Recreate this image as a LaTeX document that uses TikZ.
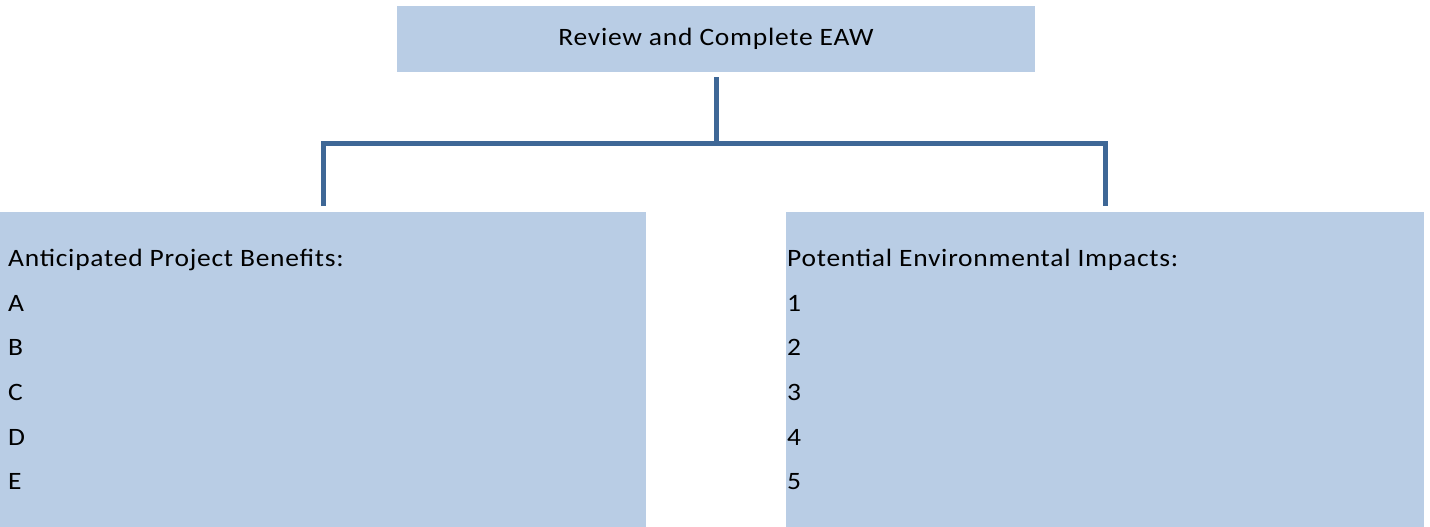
\documentclass[tikz,border=0pt]{standalone}
\usepackage{fontspec}
\setmainfont{Carlito}[FakeStretch=1.1, LetterSpace=3]
\definecolor{boxfill}{RGB}{185,205,229}
\definecolor{linkblue}{RGB}{62,103,150}

\begin{document}
\begin{tikzpicture}[x=1pt, y=-1pt,
		box/.style={fill=boxfill, inner sep=0pt},
		link/.style={draw=linkblue, line width=5pt},
		txt/.style={anchor=base west, inner sep=0pt, font=\fontsize{25}{30}\selectfont}]
		\useasboundingbox (0,0) rectangle (1430,527);
		% boxes
		\node[box, minimum width=638pt, minimum height=66pt, font=\fontsize{25}{30}\selectfont] (review) at (716,39) {Review and Complete EAW};
		\node[box, anchor=north west, minimum width=646pt, minimum height=315pt] (benefits) at (0,212) {};
		\node[box, anchor=north west, minimum width=638pt, minimum height=315pt] (impacts) at (786,212) {};
		% connectors
		\coordinate (fork) at (716,143);
		\draw[link, shorten <=5pt] (review.south) -- (fork);
		\draw[link, shorten <=6pt, shorten >=6pt] (benefits.north) |- (fork) -| (impacts.north);
		% left list
		\node[txt] (ben0) at (8,266.7) {Anticipated Project Benefits:};
		\node[txt] (ben1) at (8,311.3) {A};
		\node[txt] (ben2) at (8,355.9) {B};
		\node[txt] (ben3) at (8,400.5) {C};
		\node[txt] (ben4) at (8,445.1) {D};
		\node[txt] (ben5) at (8,489.7) {E};
		% right list
		\node[txt] (imp0) at (787,266.7) {Potential Environmental Impacts:};
		\node[txt] (imp1) at (787,311.3) {1};
		\node[txt] (imp2) at (787,355.9) {2};
		\node[txt] (imp3) at (787,400.5) {3};
		\node[txt] (imp4) at (787,445.1) {4};
		\node[txt] (imp5) at (787,489.7) {5};
	\end{tikzpicture}
\end{document}
